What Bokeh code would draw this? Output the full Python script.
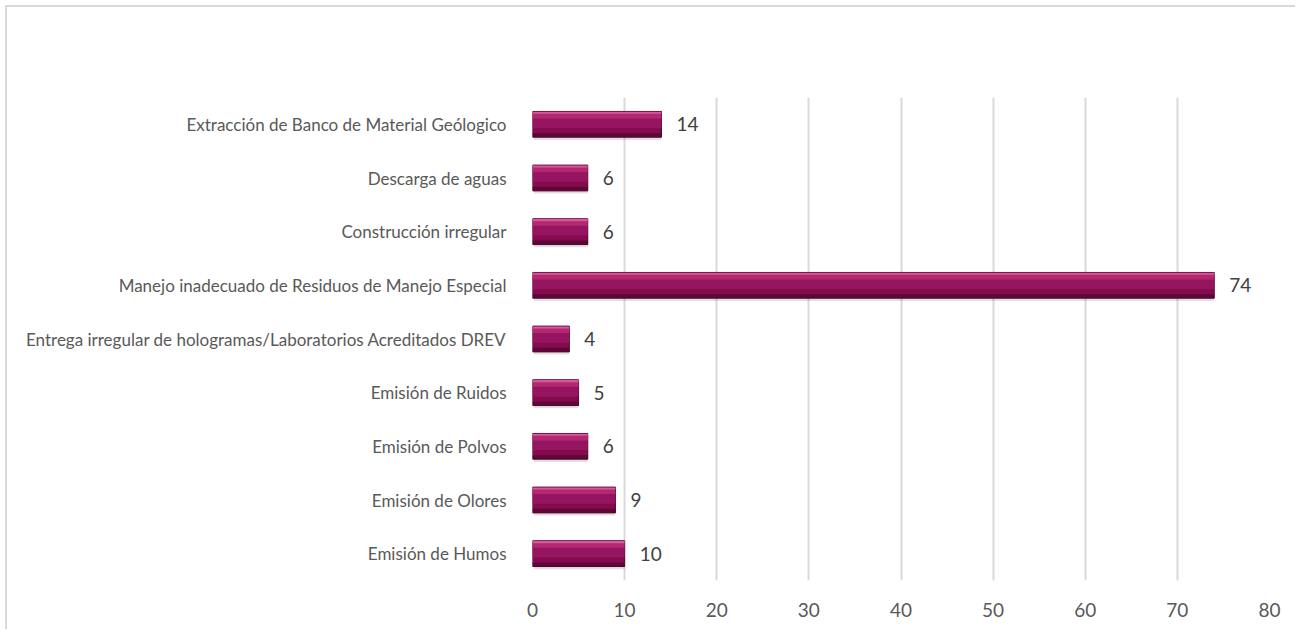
from bokeh.plotting import figure
from bokeh.models import ColumnDataSource, FactorRange, Range1d, SingleIntervalTicker
from bokeh.transform import dodge
from bokeh.core.properties import value
from bokeh.embed import file_html
from bokeh.resources import INLINE

categories = [
    "Extracción de Banco de Material Geólogico",
    "Descarga de aguas",
    "Construcción irregular",
    "Manejo inadecuado de Residuos de Manejo Especial",
    "Entrega irregular de hologramas/Laboratorios Acreditados DREV",
    "Emisión de Ruidos",
    "Emisión de Polvos",
    "Emisión de Olores",
    "Emisión de Humos",
]
counts = [14, 6, 6, 74, 4, 5, 6, 9, 10]

FONT = "Lato"

src = ColumnDataSource(dict(cat=categories, val=counts, lab=[str(v) for v in counts]))

p = figure(
    width=1290, height=624,
    y_range=FactorRange(*reversed(categories), range_padding=0),
    x_range=Range1d(0, 80),
    output_backend="svg", toolbar_location=None,
    min_border_left=525, min_border_right=28, min_border_top=90, min_border_bottom=51,
)
p.styles = {"margin-left": "5px", "margin-top": "5px",
            "border-left": "2px solid #d9d9d9", "border-top": "2px solid #d9d9d9"}
p.outline_line_color = None
p.border_fill_color = "white"

# shadow
p.hbar(y=dodge("cat", -0.05, range=p.y_range), left=0.15, right="val", height=0.48,
       source=src, fill_color="#000000", fill_alpha=0.12, line_color=None)
# main bar
p.hbar(y="cat", left=0, right="val", height=0.48, source=src,
       fill_color="#850b4e", line_color="#4a0629", line_width=1)
# middle band
p.hbar(y=dodge("cat", 0.04, range=p.y_range), left=0, right="val", height=0.22,
       source=src, fill_color="#961560", line_color=None)
# upper lighter band
p.hbar(y=dodge("cat", 0.16, range=p.y_range), left=0, right="val", height=0.1,
       source=src, fill_color="#b42872", line_color=None)
# top highlight
p.hbar(y=dodge("cat", 0.215, range=p.y_range), left=0, right="val", height=0.04,
       source=src, fill_color="#d8579b", line_color=None)
# bottom dark band
p.hbar(y=dodge("cat", -0.2, range=p.y_range), left=0, right="val", height=0.07,
       source=src, fill_color="#5e0637", line_color=None)

# value labels
p.text(x="val", y="cat", text="lab", source=src, x_offset=15,
       text_baseline="middle", text_align="left", text_font=value(FONT),
       text_font_size="19px", text_color="#404040")

p.xgrid.grid_line_color = "#d9d9d9"
p.xgrid.grid_line_width = 2
p.ygrid.grid_line_color = None

p.xaxis.ticker = SingleIntervalTicker(interval=10)
p.xaxis.axis_line_color = None
p.xaxis.major_tick_line_color = None
p.xaxis.minor_tick_line_color = None
p.xaxis.major_label_text_font = FONT
p.xaxis.major_label_text_font_size = "19px"
p.xaxis.major_label_text_color = "#595959"
p.xaxis.major_label_standoff = 16

p.yaxis.axis_line_color = None
p.yaxis.major_tick_line_color = None
p.yaxis.major_label_text_font = FONT
p.yaxis.major_label_text_font_size = "17px"
p.yaxis.major_label_text_color = "#595959"
p.yaxis.major_label_standoff = 20

open("out.html", "w").write(file_html(p, INLINE))
